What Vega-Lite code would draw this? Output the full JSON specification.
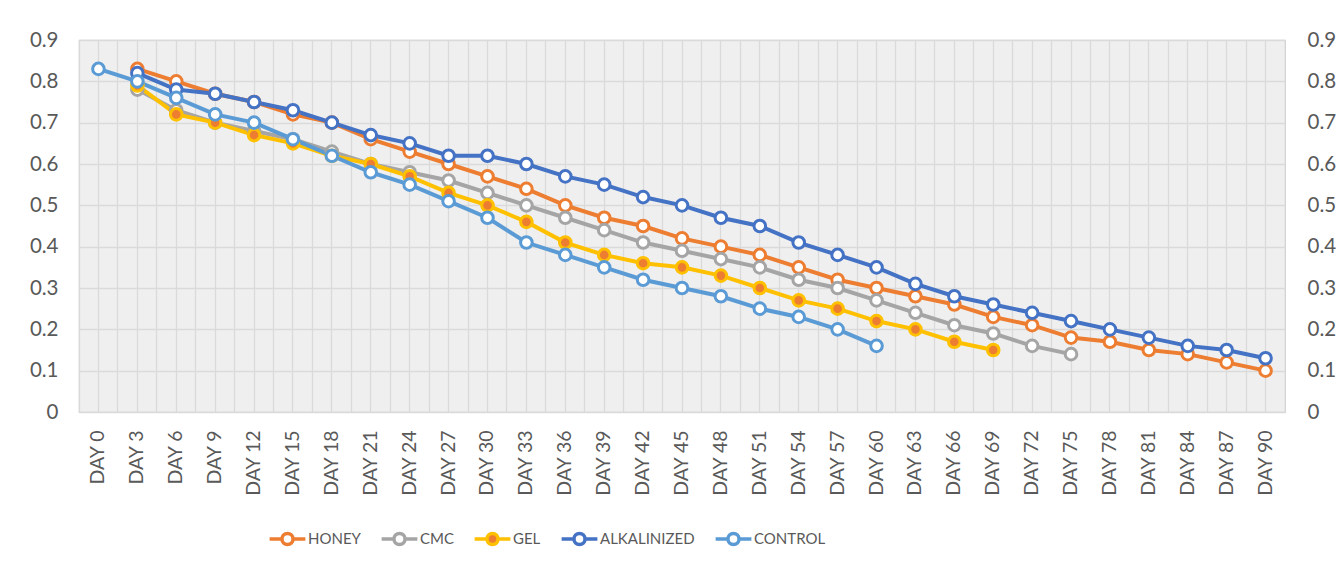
{
  "$schema": "https://vega.github.io/schema/vega-lite/v6.json",
  "width": 1206,
  "height": 372,
  "autosize": {"type": "none"},
  "padding": {"left": 79, "top": 40, "right": 57, "bottom": 159},
  "background": "white",
  "config": {
    "font": "Lato",
    "view": {"fill": "#efefef", "stroke": "#d0d0d0", "strokeWidth": 1.2},
    "axis": {"labelFont": "Lato", "labelColor": "#595959", "ticks": false, "domain": false, "gridColor": "#dadada", "gridWidth": 1.3, "title": null}
  },
  "data": {
    "values": [
      {"series": "HONEY", "day": "DAY 3", "value": 0.83},
      {"series": "HONEY", "day": "DAY 6", "value": 0.80},
      {"series": "HONEY", "day": "DAY 9", "value": 0.77},
      {"series": "HONEY", "day": "DAY 12", "value": 0.75},
      {"series": "HONEY", "day": "DAY 15", "value": 0.72},
      {"series": "HONEY", "day": "DAY 18", "value": 0.70},
      {"series": "HONEY", "day": "DAY 21", "value": 0.66},
      {"series": "HONEY", "day": "DAY 24", "value": 0.63},
      {"series": "HONEY", "day": "DAY 27", "value": 0.60},
      {"series": "HONEY", "day": "DAY 30", "value": 0.57},
      {"series": "HONEY", "day": "DAY 33", "value": 0.54},
      {"series": "HONEY", "day": "DAY 36", "value": 0.50},
      {"series": "HONEY", "day": "DAY 39", "value": 0.47},
      {"series": "HONEY", "day": "DAY 42", "value": 0.45},
      {"series": "HONEY", "day": "DAY 45", "value": 0.42},
      {"series": "HONEY", "day": "DAY 48", "value": 0.40},
      {"series": "HONEY", "day": "DAY 51", "value": 0.38},
      {"series": "HONEY", "day": "DAY 54", "value": 0.35},
      {"series": "HONEY", "day": "DAY 57", "value": 0.32},
      {"series": "HONEY", "day": "DAY 60", "value": 0.30},
      {"series": "HONEY", "day": "DAY 63", "value": 0.28},
      {"series": "HONEY", "day": "DAY 66", "value": 0.26},
      {"series": "HONEY", "day": "DAY 69", "value": 0.23},
      {"series": "HONEY", "day": "DAY 72", "value": 0.21},
      {"series": "HONEY", "day": "DAY 75", "value": 0.18},
      {"series": "HONEY", "day": "DAY 78", "value": 0.17},
      {"series": "HONEY", "day": "DAY 81", "value": 0.15},
      {"series": "HONEY", "day": "DAY 84", "value": 0.14},
      {"series": "HONEY", "day": "DAY 87", "value": 0.12},
      {"series": "HONEY", "day": "DAY 90", "value": 0.10},
      {"series": "CMC", "day": "DAY 3", "value": 0.78},
      {"series": "CMC", "day": "DAY 6", "value": 0.73},
      {"series": "CMC", "day": "DAY 9", "value": 0.70},
      {"series": "CMC", "day": "DAY 12", "value": 0.68},
      {"series": "CMC", "day": "DAY 15", "value": 0.66},
      {"series": "CMC", "day": "DAY 18", "value": 0.63},
      {"series": "CMC", "day": "DAY 21", "value": 0.60},
      {"series": "CMC", "day": "DAY 24", "value": 0.58},
      {"series": "CMC", "day": "DAY 27", "value": 0.56},
      {"series": "CMC", "day": "DAY 30", "value": 0.53},
      {"series": "CMC", "day": "DAY 33", "value": 0.50},
      {"series": "CMC", "day": "DAY 36", "value": 0.47},
      {"series": "CMC", "day": "DAY 39", "value": 0.44},
      {"series": "CMC", "day": "DAY 42", "value": 0.41},
      {"series": "CMC", "day": "DAY 45", "value": 0.39},
      {"series": "CMC", "day": "DAY 48", "value": 0.37},
      {"series": "CMC", "day": "DAY 51", "value": 0.35},
      {"series": "CMC", "day": "DAY 54", "value": 0.32},
      {"series": "CMC", "day": "DAY 57", "value": 0.30},
      {"series": "CMC", "day": "DAY 60", "value": 0.27},
      {"series": "CMC", "day": "DAY 63", "value": 0.24},
      {"series": "CMC", "day": "DAY 66", "value": 0.21},
      {"series": "CMC", "day": "DAY 69", "value": 0.19},
      {"series": "CMC", "day": "DAY 72", "value": 0.16},
      {"series": "CMC", "day": "DAY 75", "value": 0.14},
      {"series": "GEL", "day": "DAY 3", "value": 0.79},
      {"series": "GEL", "day": "DAY 6", "value": 0.72},
      {"series": "GEL", "day": "DAY 9", "value": 0.70},
      {"series": "GEL", "day": "DAY 12", "value": 0.67},
      {"series": "GEL", "day": "DAY 15", "value": 0.65},
      {"series": "GEL", "day": "DAY 18", "value": 0.62},
      {"series": "GEL", "day": "DAY 21", "value": 0.60},
      {"series": "GEL", "day": "DAY 24", "value": 0.57},
      {"series": "GEL", "day": "DAY 27", "value": 0.53},
      {"series": "GEL", "day": "DAY 30", "value": 0.50},
      {"series": "GEL", "day": "DAY 33", "value": 0.46},
      {"series": "GEL", "day": "DAY 36", "value": 0.41},
      {"series": "GEL", "day": "DAY 39", "value": 0.38},
      {"series": "GEL", "day": "DAY 42", "value": 0.36},
      {"series": "GEL", "day": "DAY 45", "value": 0.35},
      {"series": "GEL", "day": "DAY 48", "value": 0.33},
      {"series": "GEL", "day": "DAY 51", "value": 0.30},
      {"series": "GEL", "day": "DAY 54", "value": 0.27},
      {"series": "GEL", "day": "DAY 57", "value": 0.25},
      {"series": "GEL", "day": "DAY 60", "value": 0.22},
      {"series": "GEL", "day": "DAY 63", "value": 0.20},
      {"series": "GEL", "day": "DAY 66", "value": 0.17},
      {"series": "GEL", "day": "DAY 69", "value": 0.15},
      {"series": "ALKALINIZED", "day": "DAY 3", "value": 0.82},
      {"series": "ALKALINIZED", "day": "DAY 6", "value": 0.78},
      {"series": "ALKALINIZED", "day": "DAY 9", "value": 0.77},
      {"series": "ALKALINIZED", "day": "DAY 12", "value": 0.75},
      {"series": "ALKALINIZED", "day": "DAY 15", "value": 0.73},
      {"series": "ALKALINIZED", "day": "DAY 18", "value": 0.70},
      {"series": "ALKALINIZED", "day": "DAY 21", "value": 0.67},
      {"series": "ALKALINIZED", "day": "DAY 24", "value": 0.65},
      {"series": "ALKALINIZED", "day": "DAY 27", "value": 0.62},
      {"series": "ALKALINIZED", "day": "DAY 30", "value": 0.62},
      {"series": "ALKALINIZED", "day": "DAY 33", "value": 0.60},
      {"series": "ALKALINIZED", "day": "DAY 36", "value": 0.57},
      {"series": "ALKALINIZED", "day": "DAY 39", "value": 0.55},
      {"series": "ALKALINIZED", "day": "DAY 42", "value": 0.52},
      {"series": "ALKALINIZED", "day": "DAY 45", "value": 0.50},
      {"series": "ALKALINIZED", "day": "DAY 48", "value": 0.47},
      {"series": "ALKALINIZED", "day": "DAY 51", "value": 0.45},
      {"series": "ALKALINIZED", "day": "DAY 54", "value": 0.41},
      {"series": "ALKALINIZED", "day": "DAY 57", "value": 0.38},
      {"series": "ALKALINIZED", "day": "DAY 60", "value": 0.35},
      {"series": "ALKALINIZED", "day": "DAY 63", "value": 0.31},
      {"series": "ALKALINIZED", "day": "DAY 66", "value": 0.28},
      {"series": "ALKALINIZED", "day": "DAY 69", "value": 0.26},
      {"series": "ALKALINIZED", "day": "DAY 72", "value": 0.24},
      {"series": "ALKALINIZED", "day": "DAY 75", "value": 0.22},
      {"series": "ALKALINIZED", "day": "DAY 78", "value": 0.20},
      {"series": "ALKALINIZED", "day": "DAY 81", "value": 0.18},
      {"series": "ALKALINIZED", "day": "DAY 84", "value": 0.16},
      {"series": "ALKALINIZED", "day": "DAY 87", "value": 0.15},
      {"series": "ALKALINIZED", "day": "DAY 90", "value": 0.13},
      {"series": "CONTROL", "day": "DAY 0", "value": 0.83},
      {"series": "CONTROL", "day": "DAY 3", "value": 0.80},
      {"series": "CONTROL", "day": "DAY 6", "value": 0.76},
      {"series": "CONTROL", "day": "DAY 9", "value": 0.72},
      {"series": "CONTROL", "day": "DAY 12", "value": 0.70},
      {"series": "CONTROL", "day": "DAY 15", "value": 0.66},
      {"series": "CONTROL", "day": "DAY 18", "value": 0.62},
      {"series": "CONTROL", "day": "DAY 21", "value": 0.58},
      {"series": "CONTROL", "day": "DAY 24", "value": 0.55},
      {"series": "CONTROL", "day": "DAY 27", "value": 0.51},
      {"series": "CONTROL", "day": "DAY 30", "value": 0.47},
      {"series": "CONTROL", "day": "DAY 33", "value": 0.41},
      {"series": "CONTROL", "day": "DAY 36", "value": 0.38},
      {"series": "CONTROL", "day": "DAY 39", "value": 0.35},
      {"series": "CONTROL", "day": "DAY 42", "value": 0.32},
      {"series": "CONTROL", "day": "DAY 45", "value": 0.30},
      {"series": "CONTROL", "day": "DAY 48", "value": 0.28},
      {"series": "CONTROL", "day": "DAY 51", "value": 0.25},
      {"series": "CONTROL", "day": "DAY 54", "value": 0.23},
      {"series": "CONTROL", "day": "DAY 57", "value": 0.20},
      {"series": "CONTROL", "day": "DAY 60", "value": 0.16}
    ]
  },
  "layer": [
    {
      "mark": {"type": "line", "strokeWidth": 4},
      "encoding": {
        "x": {
          "field": "day", "type": "ordinal", "bandPosition": 0.5,
          "scale": {"type": "band", "paddingInner": 0, "paddingOuter": 0,
            "domain": ["DAY 0","DAY 3","DAY 6","DAY 9","DAY 12","DAY 15","DAY 18","DAY 21","DAY 24","DAY 27","DAY 30","DAY 33","DAY 36","DAY 39","DAY 42","DAY 45","DAY 48","DAY 51","DAY 54","DAY 57","DAY 60","DAY 63","DAY 66","DAY 69","DAY 72","DAY 75","DAY 78","DAY 81","DAY 84","DAY 87","DAY 90"]},
          "axis": {"labelAngle": -90, "labelFontSize": 19.5, "labelPadding": 18, "grid": true, "bandPosition": 0.5, "labelFont": "Lato"}
        },
        "y": {
          "field": "value", "type": "quantitative",
          "scale": {"domain": [0, 0.9], "nice": false, "zero": true},
          "axis": {"orient": "left", "values": [0,0.1,0.2,0.3,0.4,0.5,0.6,0.7,0.8,0.9], "format": "~g", "grid": true, "labelFontSize": 20.5, "labelPadding": 21}
        },
        "color": {
          "field": "series", "type": "nominal",
          "scale": {"domain": ["HONEY","CMC","GEL","ALKALINIZED","CONTROL"], "range": ["#ED7D31","#A5A5A5","#FFC000","#4472C4","#5B9BD5"]},
          "legend": {
            "orient": "none", "legendX": 200, "legendY": 490, "direction": "horizontal", "title": null,
            "symbolType": "M-2.75,0H-0.85M0.85,0H2.75M0.85,0A0.85,0.85,0,1,1,-0.85,0A0.85,0.85,0,1,1,0.85,0Z",
            "symbolSize": 169, "symbolStrokeWidth": 3.5,
            "labelFont": "Lato", "labelFontSize": 15, "labelColor": "#595959",
            "labelOffset": 12, "columnPadding": 13, "padding": 0
          }
        }
      }
    },
    {
      "mark": {"type": "point", "shape": "circle", "filled": false, "size": 135, "strokeWidth": 3, "opacity": 1},
      "encoding": {
        "x": {
          "field": "day", "type": "ordinal", "bandPosition": 0.5,
          "axis": {"grid": true, "bandPosition": 0, "labels": false, "ticks": false, "domain": false}
        },
        "y": {
          "field": "value", "type": "quantitative",
          "axis": {"orient": "right", "values": [0,0.1,0.2,0.3,0.4,0.5,0.6,0.7,0.8,0.9], "format": "~g", "grid": false, "labelFontSize": 20.5, "labelPadding": 22}
        },
        "color": {"field": "series", "type": "nominal"},
        "fill": {
          "field": "series", "type": "nominal",
          "scale": {"domain": ["HONEY","CMC","GEL","ALKALINIZED","CONTROL"], "range": ["#FFFFFF","#FFFFFF","#ED7D31","#FFFFFF","#FFFFFF"]},
          "legend": {
            "orient": "none", "legendX": 200, "legendY": 490, "direction": "horizontal", "title": null,
            "symbolType": "M-2.75,0H-0.85M0.85,0H2.75M0.85,0A0.85,0.85,0,1,1,-0.85,0A0.85,0.85,0,1,1,0.85,0Z",
            "symbolSize": 169, "symbolStrokeWidth": 3.5,
            "labelFont": "Lato", "labelFontSize": 15, "labelColor": "#595959",
            "labelOffset": 12, "columnPadding": 13, "padding": 0
          }
        }
      }
    }
  ],
  "resolve": {"axis": {"x": "independent", "y": "independent"}}
}
